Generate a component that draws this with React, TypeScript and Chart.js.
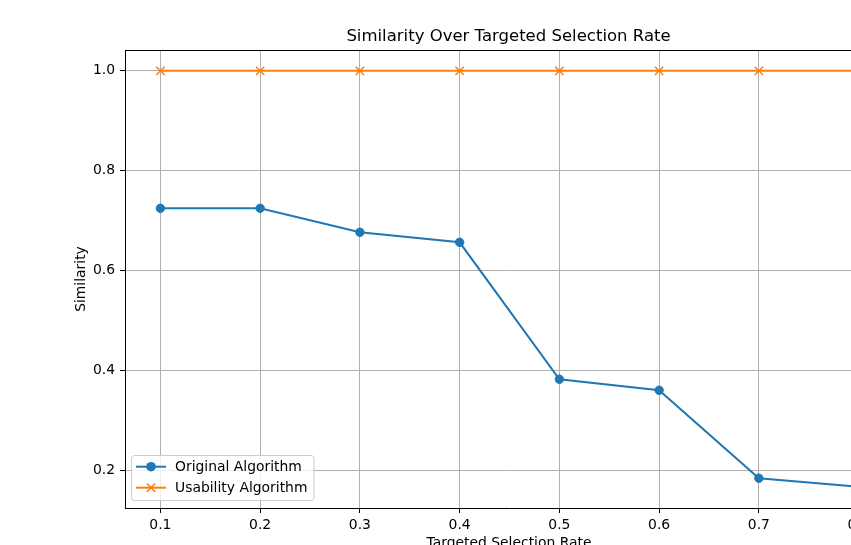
import React, { useEffect, useRef } from "react";
import { Chart, registerables } from "chart.js";
Chart.register(...registerables);

const rates = [0.1, 0.2, 0.3, 0.4, 0.5, 0.6, 0.7, 0.8];
const originalSimilarity = [0.725, 0.725, 0.677, 0.657, 0.383, 0.361, 0.185, 0.168];
const usabilitySimilarity = [1.0, 1.0, 1.0, 1.0, 1.0, 1.0, 1.0, 1.0];
const xTicks = [0.1, 0.2, 0.3, 0.4, 0.5, 0.6, 0.7, 0.8];
const yTicks = [0.2, 0.4, 0.6, 0.8, 1.0];
const seriesLabels = ["Original Algorithm", "Usability Algorithm"];
const chartTitle = "Similarity Over Targeted Selection Rate";
const xLabel = "Targeted Selection Rate";
const yLabel = "Similarity";

const FONT = "'DejaVu Sans', sans-serif";
const BLUE = "#1f77b4";
const ORANGE = "#ff7f0e";

const CANVAS_W = 1000;
const CANVAS_H = 545;

const decorPlugin = {
  id: "decor",
  afterDraw(chart: any) {
    const ctx = chart.ctx as CanvasRenderingContext2D;
    const a = chart.chartArea;
    ctx.save();
    // spines
    ctx.strokeStyle = "#000";
    ctx.lineWidth = 1;
    ctx.beginPath();
    ctx.moveTo(a.left, Math.round(a.top) + 0.5);
    ctx.lineTo(a.right, Math.round(a.top) + 0.5);
    ctx.moveTo(Math.round(a.right) + 0.5, a.top);
    ctx.lineTo(Math.round(a.right) + 0.5, a.bottom);
    ctx.stroke();

    const cx = (a.left + a.right) / 2;
    // title
    ctx.fillStyle = "#000";
    ctx.font = `16.5px ${FONT}`;
    ctx.textAlign = "center";
    ctx.textBaseline = "alphabetic";
    ctx.fillText(chartTitle, cx - 0.5, 41);

    // x label
    ctx.font = `13.9px ${FONT}`;
    ctx.fillText(xLabel, cx, 547);

    // y label
    ctx.save();
    ctx.translate(81.5, (a.top + a.bottom) / 2);
    ctx.rotate(-Math.PI / 2);
    ctx.textBaseline = "middle";
    ctx.fillText(yLabel, 0, 0);
    ctx.restore();

    // legend
    const lx = 131.5, ly = 455.5, lw = 182.5, lh = 45;
    ctx.beginPath();
    ctx.roundRect(lx, ly, lw, lh, 3);
    ctx.fillStyle = "rgba(255,255,255,0.8)";
    ctx.fill();
    ctx.strokeStyle = "#cccccc";
    ctx.lineWidth = 1;
    ctx.stroke();

    const rows = [466.7, 487.7];
    const colors = [BLUE, ORANGE];
    rows.forEach((ry, i) => {
      ctx.strokeStyle = colors[i];
      ctx.lineWidth = 2;
      ctx.beginPath();
      ctx.moveTo(136, ry);
      ctx.lineTo(166, ry);
      ctx.stroke();
      if (i === 0) {
        ctx.fillStyle = BLUE;
        ctx.beginPath();
        ctx.arc(151, ry, 4.8, 0, Math.PI * 2);
        ctx.fill();
      } else {
        ctx.lineWidth = 1.5;
        const r = 4.15;
        ctx.beginPath();
        ctx.moveTo(151 - r, ry - r);
        ctx.lineTo(151 + r, ry + r);
        ctx.moveTo(151 - r, ry + r);
        ctx.lineTo(151 + r, ry - r);
        ctx.stroke();
      }
      ctx.fillStyle = "#000";
      ctx.font = `13.9px ${FONT}`;
      ctx.textAlign = "left";
      ctx.textBaseline = "middle";
      ctx.fillText(seriesLabels[i], 175, ry + 0.5);
    });
    ctx.restore();
  },
};

export default function App() {
  const ref = useRef<HTMLCanvasElement | null>(null);
  useEffect(() => {
    if (!ref.current) return;
    const chart = new Chart(ref.current, {
      type: "line",
      data: {
        datasets: [
          {
            label: seriesLabels[0],
            data: rates.map((x, i) => ({ x, y: originalSimilarity[i] })),
            borderColor: BLUE,
            backgroundColor: BLUE,
            borderWidth: 2,
            pointStyle: "circle",
            pointRadius: 4.2,
            pointBorderWidth: 1,
            pointBackgroundColor: BLUE,
            pointBorderColor: BLUE,
            tension: 0,
          },
          {
            label: seriesLabels[1],
            data: rates.map((x, i) => ({ x, y: usabilitySimilarity[i] })),
            borderColor: ORANGE,
            backgroundColor: ORANGE,
            borderWidth: 2,
            pointStyle: "crossRot",
            pointRadius: 5.9,
            pointBorderWidth: 1.5,
            pointBorderColor: ORANGE,
            tension: 0,
          },
        ],
      },
      options: {
        responsive: false,
        animation: false,
        layout: { padding: { left: 0, top: 50, right: CANVAS_W - 893, bottom: 0 } },
        plugins: {
          legend: { display: false },
          title: { display: false },
          tooltip: { enabled: false },
        },
        scales: {
          x: {
            type: "linear",
            min: 0.0645,
            max: 0.8345,
            afterFit: (s: any) => {
              s.height = CANVAS_H - 508;
            },
            afterBuildTicks: (s: any) => {
              s.ticks = xTicks.map((v) => ({ value: v }));
            },
            ticks: {
              color: "#000",
              font: { family: FONT, size: 13.9 },
              padding: 4,
              maxRotation: 0,
              autoSkip: false,
              callback: (v: any) => Number(v).toFixed(1),
            },
            grid: {
              color: "#b0b0b0",
              lineWidth: 1,
              tickColor: "#000",
              tickLength: 5,
              tickWidth: 1,
            },
            border: { display: true, color: "#000", width: 1 },
          },
          y: {
            type: "linear",
            min: 0.1254,
            max: 1.0417,
            afterFit: (s: any) => {
              s.width = 125;
            },
            afterBuildTicks: (s: any) => {
              s.ticks = yTicks.map((v) => ({ value: v }));
            },
            ticks: {
              color: "#000",
              font: { family: FONT, size: 13.9 },
              padding: 5,
              autoSkip: false,
              callback: (v: any) => Number(v).toFixed(1),
            },
            grid: {
              color: "#b0b0b0",
              lineWidth: 1,
              tickColor: "#000",
              tickLength: 5,
              tickWidth: 1,
            },
            border: { display: true, color: "#000", width: 1 },
          },
        },
      },
      plugins: [decorPlugin],
    });
    return () => chart.destroy();
  }, []);

  return (
    <div
      style={{
        position: "fixed",
        left: 0,
        top: 0,
        width: 851,
        height: 545,
        overflow: "hidden",
        background: "#fff",
      }}
    >
      <canvas
        ref={ref}
        width={CANVAS_W}
        height={CANVAS_H}
        style={{ display: "block", width: CANVAS_W, height: CANVAS_H }}
      />
    </div>
  );
}
